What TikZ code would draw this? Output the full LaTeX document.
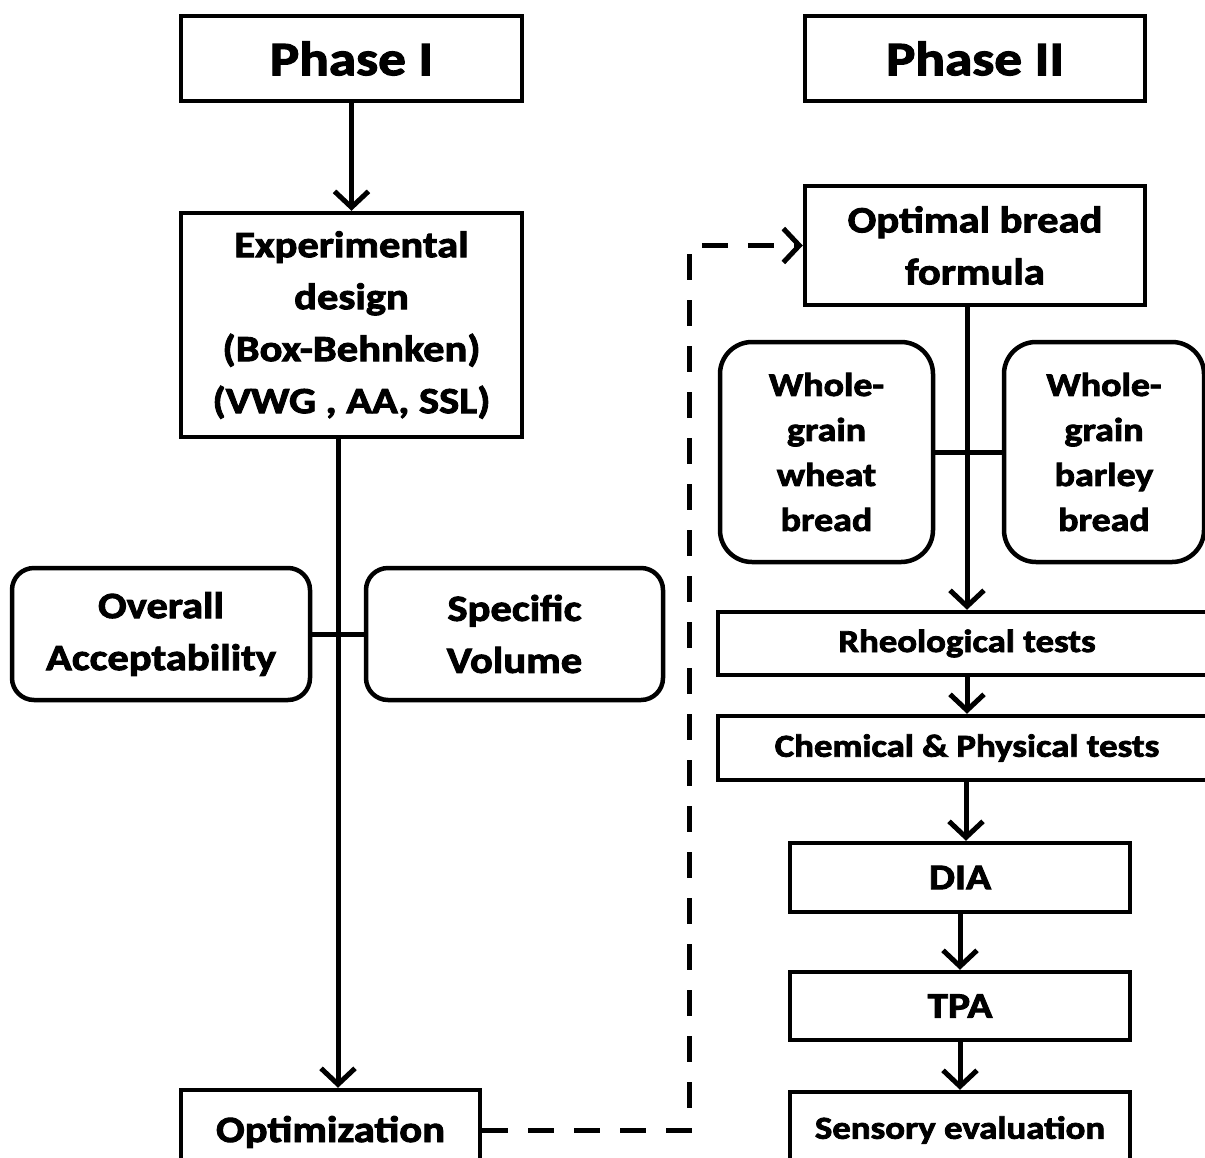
\documentclass[tikz,border=0pt]{standalone}
\usepackage{fontspec}
\setmainfont{Carlito}[FakeStretch=1.15,FakeBold=2.5]
\usetikzlibrary{arrows.meta,calc}
\begin{document}
\begin{tikzpicture}[x=1pt,y=-1pt,
  box/.style={draw,line width=4.5pt,rectangle,align=center,inner sep=0pt,font=\bfseries},
  rbox/.style={box,rounded corners=22pt},
  conn/.style={line width=5pt},
  arr/.style={line width=5pt,-{Straight Barb[length=16pt,width=34pt,line width=5pt]}},
  dsh/.style={line width=5pt,dash pattern=on 26pt off 20pt,-{Straight Barb[length=16pt,width=34pt,line width=5pt]}},
  f48/.style={font=\fontsize{48}{56}\selectfont\bfseries},
  f37/.style={font=\fontsize{37}{52}\selectfont\bfseries},
  f33/.style={font=\fontsize{33}{45}\selectfont\bfseries},
  f32/.style={font=\fontsize{32}{40}\selectfont\bfseries},
  f36/.style={font=\fontsize{36}{44}\selectfont\bfseries}]
\useasboundingbox (0,0) rectangle (1205,1157);
\fill[white] (0,0) rectangle (1205,1157);
% Phase I column
\node[box,f48,minimum width=341pt,minimum height=85pt] (p1) at (351.5,58.5) {Phase I};
\node[box,f48,minimum width=340pt,minimum height=85pt] (p2) at (975,58.5) {Phase II};
\node[box,f37,minimum width=341pt,minimum height=224pt] (exp) at (351.5,325) {Experimental\\design\\(Box-Behnken)\\(VWG , AA, SSL)};
\node[rbox,f37,minimum width=298pt,minimum height=132pt] (oa) at (161,634) {Overall\\Acceptability};
\node[rbox,f37,minimum width=297pt,minimum height=132pt] (sv) at (514.5,634) {Specific\\Volume};
\node[box,f37,minimum width=299pt,minimum height=80pt,text depth=0pt] (opt) at (330.5,1130) {\raisebox{2pt}{Optimization}};
% Phase II column
\node[box,f37,minimum width=340pt,minimum height=119pt] (obf) at (975,245.5) {Optimal bread\\formula};
\node[rbox,f33,rounded corners=32pt,minimum width=213pt,minimum height=220pt] (wh) at (826.5,452) {Whole-\\grain\\wheat\\bread};
\node[rbox,f33,rounded corners=32pt,minimum width=200pt,minimum height=220pt] (ba) at (1104,452) {Whole-\\grain\\barley\\bread};
\node[box,f32,minimum width=498pt,minimum height=63pt] (rh) at (967,643.5) {Rheological tests};
\node[box,f32,minimum width=498pt,minimum height=64pt] (ch) at (967,748) {Chemical \& Physical tests};
\node[box,f36,minimum width=340pt,minimum height=69pt] (dia) at (960,877.5) {DIA};
\node[box,f36,minimum width=340pt,minimum height=68pt] (tpa) at (960,1006) {TPA};
\node[box,f32,minimum width=340pt,minimum height=76pt] (sens) at (960,1130) {\raisebox{4pt}{Sensory evaluation}};
% connectors
\draw[arr] (p1.south) -- (exp.north);
\draw[arr] ([xshift=-13.5pt]exp.south) -- ([xshift=-13.5pt]exp.south |- opt.north);
\draw[conn] (oa.east) -- (sv.west);
\draw[dsh] (opt.east) -| ([xshift=-113pt]obf.west) -- (obf.west);
\draw[arr] (obf.south -| rh.north) -- (rh.north);
\draw[conn] (wh.east) -- (ba.west);
\draw[arr] (rh.south) -- (ch.north);
\draw[arr] ([xshift=-1pt]ch.south) -- ([xshift=-1pt]ch.south |- dia.north);
\draw[arr] (dia.south) -- (tpa.north);
\draw[arr] (tpa.south) -- (sens.north);
\end{tikzpicture}
\end{document}
